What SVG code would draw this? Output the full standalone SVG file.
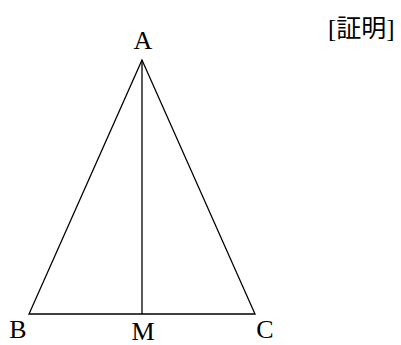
<svg xmlns="http://www.w3.org/2000/svg" width="401" height="345" viewBox="0 0 401 345">
<style>
.t{font-family:"Liberation Serif","Noto Sans CJK JP",serif;font-size:26px;fill:#000}
.p{font-family:"Liberation Serif","Noto Sans CJK JP",serif;font-size:25px;fill:#000}
.l{stroke:#000;stroke-width:1.3;fill:none}
</style>
<rect width="401" height="345" fill="#fff"/>
<g id="connectors">
<polygon class="l" points="142,60 29,314 255,314"/>
<line class="l" x1="142" y1="60" x2="142" y2="314"/>
</g>
<g id="A"><text class="t" x="143" y="49" text-anchor="middle">A</text></g>
<g id="B"><text class="t" x="18" y="338" text-anchor="middle">B</text></g>
<g id="M"><text class="t" x="143" y="340" text-anchor="middle">M</text></g>
<g id="C"><text class="t" x="265" y="338" text-anchor="middle">C</text></g>
<g id="label"><text class="p" x="328" y="37">[証明]</text></g>
</svg>
